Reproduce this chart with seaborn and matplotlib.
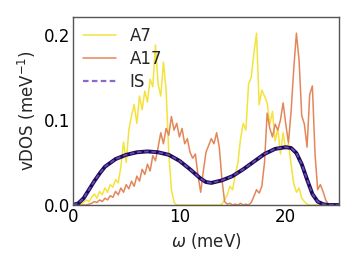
import numpy as np
import pandas as pd
import matplotlib
matplotlib.use("Agg")
import matplotlib.pyplot as plt
import seaborn as sns

# energy grid for the two spectra (meV)
omega = np.round(np.arange(0, 25.01, 0.25), 2)

a7 = [0, 0, 0, 0.001, 0.003, 0.006, 0.004, 0.009, 0.013, 0.008,
      0.016, 0.012, 0.020, 0.015, 0.024, 0.021, 0.030, 0.026, 0.045, 0.074,
      0.050, 0.088, 0.105, 0.118, 0.096, 0.128, 0.112, 0.134, 0.121, 0.148,
      0.139, 0.188, 0.142, 0.128, 0.168, 0.135, 0.062, 0.018, 0.003, 0.0,
      0, 0, 0, 0, 0, 0, 0, 0, 0, 0,
      0, 0, 0, 0, 0, 0, 0.001, 0.006, 0.012, 0.022,
      0.018, 0.035, 0.050, 0.078, 0.096, 0.088, 0.142, 0.150, 0.178, 0.202,
      0.118, 0.135, 0.128, 0.120, 0.095, 0.110, 0.075, 0.090, 0.060, 0.085,
      0.065, 0.072, 0.048, 0.025, 0.015, 0.020, 0.008, 0.004, 0.001, 0,
      0, 0, 0, 0, 0, 0, 0, 0, 0, 0, 0]

a17 = [0, 0, 0, 0, 0, 0, 0.001, 0.002, 0.004, 0.003,
       0.006, 0.004, 0.008, 0.006, 0.011, 0.009, 0.016, 0.012, 0.020, 0.015,
       0.024, 0.019, 0.028, 0.022, 0.034, 0.028, 0.042, 0.036, 0.048, 0.040,
       0.058, 0.052, 0.068, 0.085, 0.072, 0.090, 0.082, 0.104, 0.088, 0.096,
       0.080, 0.090, 0.072, 0.078, 0.062, 0.055, 0.060, 0.035, 0.015, 0.040,
       0.062, 0.070, 0.078, 0.072, 0.085, 0.068, 0.030, 0.004, 0.001, 0.002,
       0.0, 0.001, 0.0, 0.002, 0.0, 0.001, 0.0, 0.003, 0.010, 0.018,
       0.014, 0.022, 0.050, 0.108, 0.090, 0.080, 0.095, 0.088, 0.100, 0.120,
       0.095, 0.073, 0.110, 0.160, 0.202, 0.170, 0.105, 0.095, 0.068, 0.130,
       0.140, 0.060, 0.018, 0.024, 0.016, 0.006, 0.001, 0, 0, 0, 0]

is_omega = [0, 0.5, 1, 1.5, 2, 2.5, 3, 4, 5, 6, 7, 8, 9, 10, 11, 12, 12.5, 13,
            14, 15, 16, 17, 18, 19, 20, 20.5, 21, 21.5, 22, 22.5, 23, 23.5, 24, 25]
is_vdos = [0, 0.002, 0.008, 0.018, 0.028, 0.037, 0.045, 0.054, 0.059, 0.062,
           0.063, 0.062, 0.059, 0.052, 0.042, 0.031, 0.027, 0.026, 0.029, 0.034,
           0.042, 0.051, 0.060, 0.066, 0.068, 0.067, 0.061, 0.048, 0.030, 0.013,
           0.004, 0.001, 0, 0]

df = pd.DataFrame({"omega": omega, "A7": a7, "A17": a17})
dis = pd.DataFrame({"omega": is_omega, "IS": is_vdos})

sns.set_style("white")
plt.rcParams["font.family"] = ["DejaVu Sans"]

fig = plt.figure(figsize=(3.57, 2.68), dpi=100)
ax = fig.add_axes([0.2045, 0.235, 0.745, 0.7016])

sns.lineplot(data=df, x="omega", y="A7", ax=ax, color="#f4e33c", lw=1.1, label="A7")
sns.lineplot(data=df, x="omega", y="A17", ax=ax, color="#e3875a", lw=1.1, label="A17")
sns.lineplot(data=dis, x="omega", y="IS", ax=ax, color="#1c0b5a", lw=2.8)
sns.lineplot(data=dis, x="omega", y="IS", ax=ax, color="#6a4aae", lw=1.3,
             linestyle=(0, (2.5, 1.5)), label="IS")

ax.set_xlim(0, 25)
ax.set_ylim(0, 0.221)
ax.set_xticks([0, 10, 20])
ax.set_yticks([0.0, 0.1, 0.2])
ax.set_yticklabels(["0.0", "0.1", "0.2"])
ax.set_xlabel(r"$\omega$ (meV)", fontsize=12)
ax.set_ylabel(r"vDOS (meV$^{-1}$)", fontsize=12)
ax.tick_params(direction="in", length=3, width=0.8, labelsize=12, pad=2,
               colors="black")
for s in ax.spines.values():
    s.set_color("#555555")
    s.set_linewidth(1.0)

leg = ax.legend(loc="upper left", frameon=False, fontsize=12, handlelength=2.0,
                borderaxespad=0.2, labelspacing=0.3, handletextpad=0.8)
leg.get_lines()[2].set_color("#8a68c8")
leg.get_lines()[2].set_linewidth(1.6)

fig.savefig("out.png", dpi=100)
